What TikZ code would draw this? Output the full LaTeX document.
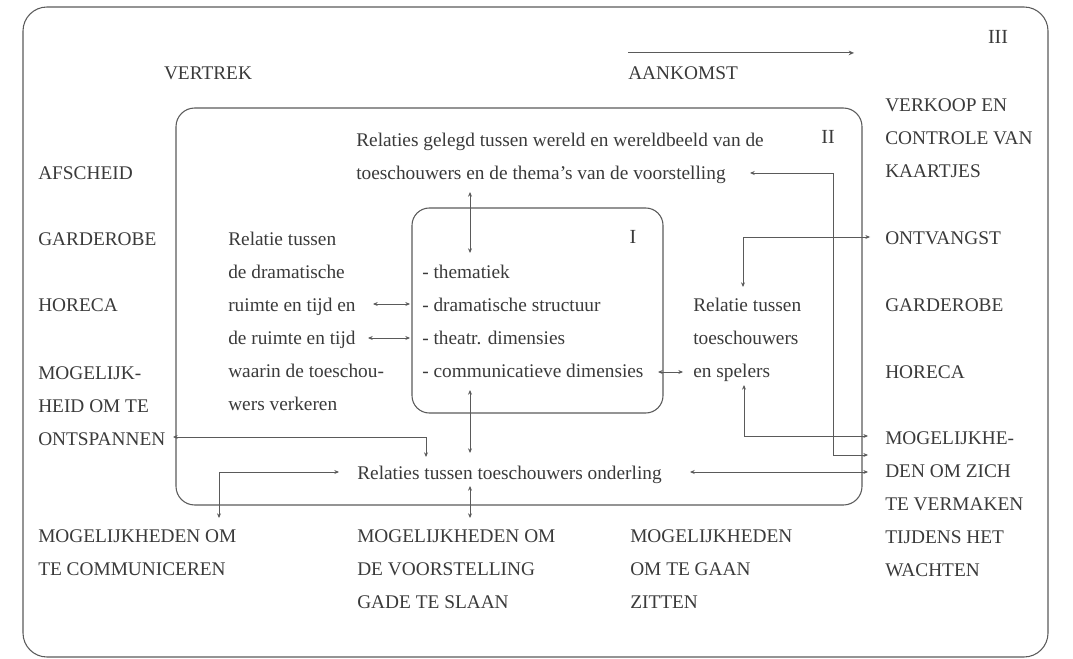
\documentclass[tikz,border=0pt]{standalone}
\usepackage{fontspec}
\setmainfont{Liberation Serif}
\usetikzlibrary{arrows.meta,positioning}

\definecolor{ink}{HTML}{3A3A3A}
\definecolor{rule}{HTML}{5A5A5A}

\tikzset{
  % multi-line labels sit on the baseline of their last line
  lbl/.style={anchor=base west, inner sep=0pt, align=left, text=ink,
    font=\fontsize{14.5}{24.75}\selectfont},
  num/.style={inner sep=0pt, text=ink, font=\fontsize{15}{18}\selectfont},
  box/.style={draw=rule, line width=0.8pt},
  link/.style={draw=rule, line width=0.6pt,
    {Stealth[length=3.5pt,width=3pt]}-{Stealth[length=3.5pt,width=3pt]}},
}

\begin{document}
\begin{tikzpicture}[x=0.75pt, y=-0.75pt]
    \useasboundingbox (0,0) rectangle (1073,659);

    % the three zones
    \draw[box, rounded corners=18pt] (23,7) rectangle (1048,657);
    \draw[box, rounded corners=14pt] (176,108) rectangle (862,505);
    \draw[box, rounded corners=13pt] (412,208) rectangle (663,413);
    \node[num] (nIII) at (998,37) {III};
    \node[num] (nII) at (828,137) {II};
    \node[num] (nI) at (633,237) {I};

    % top line
    \node[lbl, anchor=base] (vertrek) at (208,80) {VERTREK};
    \node[lbl] (aankomst) at (628,80) {AANKOMST};
    \draw[draw=rule, line width=0.8pt, -{Stealth[length=4pt,width=3.5pt]}]
        ([yshift=10.5pt]aankomst.north west) -- ++(226,0);

    % left column
    \node[lbl] (afscheid) at (38,180) {AFSCHEID};
    \node[lbl] (garderobeL) at (38,245) {GARDEROBE};
    \node[lbl] (horecaL) at (38,311) {HORECA};
    \node[lbl] (ontspannen) at (38,445) {MOGELIJK-\\HEID OM TE\\ONTSPANNEN};

    % right column
    \node[lbl] (verkoop) at (885,178) {VERKOOP EN\\CONTROLE VAN\\KAARTJES};
    \node[lbl] (ontvangst) at (885,244) {ONTVANGST};
    \node[lbl] (garderobeR) at (885,311) {GARDEROBE};
    \node[lbl] (horecaR) at (885,378) {HORECA};
    \node[lbl] (vermaken) at (885,576) {MOGELIJKHE-\\DEN OM ZICH\\TE VERMAKEN\\TIJDENS HET\\WACHTEN};

    % bottom row
    \node[lbl] (communiceren) at (38,575) {MOGELIJKHEDEN OM\\TE COMMUNICEREN};
    \node[lbl] (gadeslaan) at (357,608) {MOGELIJKHEDEN OM\\DE VOORSTELLING\\GADE TE SLAAN};
    \node[lbl] (zitten) at (630,608) {MOGELIJKHEDEN\\OM TE GAAN\\ZITTEN};

    % relations inside zone II and I
    \node[lbl] (wereld) at (356,180) {Relaties gelegd tussen wereld en wereldbeeld van de\\toeschouwers en de thema's van de voorstelling};
    \node[lbl] (ruimte) at (228,410) {Relatie tussen\\de dramatische\\ruimte en tijd en\\de ruimte en tijd\\waarin de toeschou-\\wers verkeren};
    \node[lbl] (lijst) at (422,377) {- thematiek\\- dramatische structuur\\- theatr. dimensies\\- communicatieve dimensies};
    \node[lbl] (spelers) at (693,377) {Relatie tussen\\toeschouwers\\en spelers};
    \node[lbl] (onderling) at (357,479) {Relaties tussen toeschouwers onderling};

    % connector ends
    \coordinate (wereldS) at (470,192);
    \coordinate (themaN) at (470,253);
    \coordinate (ruimteA) at (373,304);
    \coordinate (dramW) at (410,304);
    \coordinate (ruimteB) at (368,338);
    \coordinate (theatrW) at (410,338);
    \coordinate (commE) at (658,372);
    \coordinate (spelersW) at (683,372);
    \coordinate (lijstS) at (470,390);
    \coordinate (onderN) at (470,453);
    \coordinate (onderS) at (470,486);
    \coordinate (gadeN) at (470,518);
    \coordinate (ontspE) at (173,437);
    \coordinate (onderNW) at (426,457);
    \coordinate (commN) at (219,518);
    \coordinate (onderW) at (339,472);
    \coordinate (onderE) at (690,472);
    \coordinate (vermB) at (868,472);
    \coordinate (voorE) at (750,173);
    \coordinate (voorBend) at (833,455);
    \coordinate (vermA) at (868,455);
    \coordinate (spelersS) at (744,385);
    \coordinate (vermT) at (868,436);
    \coordinate (spelersN) at (743,287);
    \coordinate (ontvW) at (870,237);

    % connectors
    \draw[link] (wereldS) -- (themaN);
    \draw[link] (ruimteA) -- (dramW);
    \draw[link] (ruimteB) -- (theatrW);
    \draw[link] (commE) -- (spelersW);
    \draw[link] (lijstS) -- (onderN);
    \draw[link] (onderS) -- (gadeN);
    \draw[link] (ontspE) -| (onderNW);
    \draw[link] (commN) |- (onderW);
    \draw[link] (onderE) -- (vermB);
    \draw[link] (voorE) -| (voorBend) -- (vermA);
    \draw[link] (spelersS) |- (vermT);
    \draw[link] (spelersN) |- (ontvW);
\end{tikzpicture}
\end{document}
